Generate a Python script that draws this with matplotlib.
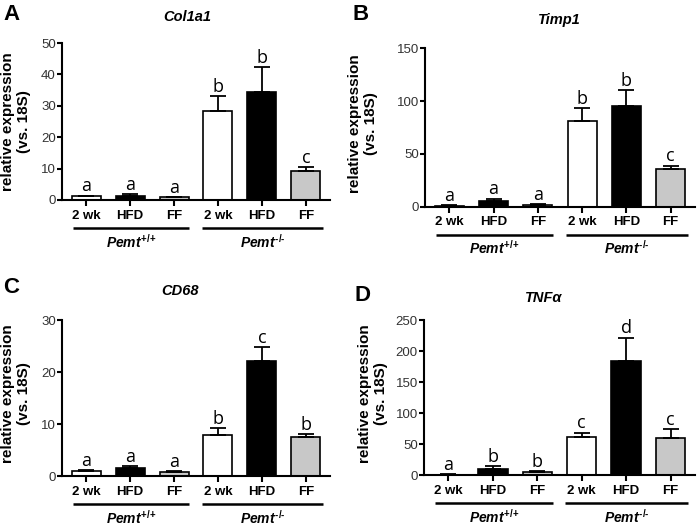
import matplotlib
matplotlib.use("Agg")
import matplotlib.pyplot as plt
from matplotlib.transforms import ScaledTranslation

# data (mean and SEM, 6 groups per panel)
categories = ["2 wk", "HFD", "FF", "2 wk", "HFD", "FF"]
genotypes = [r"$Pemt^{{+}/{+}}$", "$Pemt^{{\u2010}/{\u2010}}$"]
bar_colors = ["white", "black", "#c8c8c8", "white", "black", "#c8c8c8"]

col1a1_mean = [1.2, 1.4, 0.8, 28.2, 34.3, 9.2]
col1a1_sem = [0.2, 0.4, 0.1, 4.8, 8.1, 1.4]
col1a1_letters = ["a", "a", "a", "b", "b", "c"]

timp1_mean = [1.0, 5.5, 2.0, 81.0, 95.5, 35.5]
timp1_sem = [0.3, 2.2, 0.5, 12.0, 15.0, 3.5]
timp1_letters = ["a", "a", "a", "b", "b", "c"]

cd68_mean = [1.1, 1.6, 0.85, 7.9, 22.2, 7.5]
cd68_sem = [0.1, 0.4, 0.1, 1.3, 2.7, 0.6]
cd68_letters = ["a", "a", "a", "b", "c", "b"]

tnfa_mean = [1.0, 10.5, 5.5, 61.0, 184.0, 60.0]
tnfa_sem = [0.3, 4.5, 1.5, 8.0, 38.0, 14.0]
tnfa_letters = ["a", "b", "b", "c", "d", "c"]

plt.rcParams["font.family"] = "Liberation Sans"
plt.rcParams["mathtext.fontset"] = "custom"
plt.rcParams["mathtext.it"] = "Liberation Sans:italic:bold"
plt.rcParams["mathtext.rm"] = "Liberation Sans:bold"
plt.rcParams["mathtext.bf"] = "Liberation Sans:bold"

W, H = 697, 528
fig = plt.figure(figsize=(W / 100, H / 100), dpi=100)

# panel: letter, gene, data, ylim, tick step, axes box (px), letter pos, title pos, ylabel pos
panels = [
    ("A", "Col1a1", col1a1_mean, col1a1_sem, col1a1_letters, 50, 10,
     (62, 200, 268, 157), (3, 4), (187, 17), (16, 122)),
    ("B", "Timp1", timp1_mean, timp1_sem, timp1_letters, 150, 50,
     (425, 206.7, 270, 158.4), (353, 4), (559, 20), (363, 124)),
    ("C", "CD68", cd68_mean, cd68_sem, cd68_letters, 30, 10,
     (62, 476.3, 268, 156), (3, 277), (180, 291), (16, 394)),
    ("D", "TNFα", tnfa_mean, tnfa_sem, tnfa_letters, 250, 50,
     (424, 475.3, 271, 155), (355, 285), (544, 298), (373, 394)),
]

x = list(range(len(categories)))

for (plabel, gene, mean, sem, letters, ymax, step,
     box, lpos, tpos, ypos) in panels:
    left, bottom, w, h = box
    ax = fig.add_axes([left / W, 1 - bottom / H, w / W, h / H])

    ax.bar(x, mean, width=0.66, color=bar_colors, edgecolor="black",
           linewidth=1.2, zorder=2)
    ax.errorbar(x, mean, yerr=[[0] * len(sem), sem], fmt="none",
                ecolor="black", elinewidth=1.3, capsize=5.5, capthick=1.3,
                zorder=3)
    for xi, m, s, let in zip(x, mean, sem, letters):
        ax.annotate(let, (xi, m + s), xytext=(0, 3), textcoords="offset points",
                    ha="center", va="baseline", fontsize=13,
                    family="Open Sans")

    ax.set_xlim(-0.55, 5.55)
    ax.set_ylim(0, ymax)
    ax.set_yticks(range(0, ymax + 1, step))
    ax.set_xticks(x)
    ax.set_xticklabels(categories, fontsize=9.5, fontweight="bold")
    for sp in ["top", "right"]:
        ax.spines[sp].set_visible(False)
    for sp in ["left", "bottom"]:
        ax.spines[sp].set_linewidth(1.5)
    ax.tick_params(axis="y", length=3.5, width=1.5, labelsize=9.5,
                   labelcolor="#333333", pad=1)
    ax.tick_params(axis="x", length=4, width=1.5, pad=3)

    # genotype group lines under the category labels
    line_tr = ax.get_xaxis_transform() + ScaledTranslation(0, -0.28, fig.dpi_scale_trans)
    text_tr = ax.get_xaxis_transform() + ScaledTranslation(0, -0.415, fig.dpi_scale_trans)
    for (x0, x1), g in zip([(-0.3, 2.35), (2.63, 5.4)], genotypes):
        ax.plot([x0, x1], [0, 0], color="black", lw=1.8, transform=line_tr,
                clip_on=False, solid_capstyle="butt")
        ax.text((x0 + x1) / 2, 0, g, transform=text_tr, ha="center",
                va="center", fontsize=10)

    fig.text(lpos[0] / W, 1 - lpos[1] / H, plabel, fontsize=16,
             fontweight="bold", ha="left", va="top")
    fig.text(tpos[0] / W, 1 - tpos[1] / H, gene, fontsize=10.5,
             fontweight="bold", style="italic", ha="center", va="center")
    fig.text(ypos[0] / W, 1 - ypos[1] / H, "relative expression\n(vs. 18S)",
             fontsize=11, fontweight="bold", rotation=90, ha="center",
             va="center", multialignment="center", linespacing=1.1)

fig.savefig("out.png", dpi=100)
